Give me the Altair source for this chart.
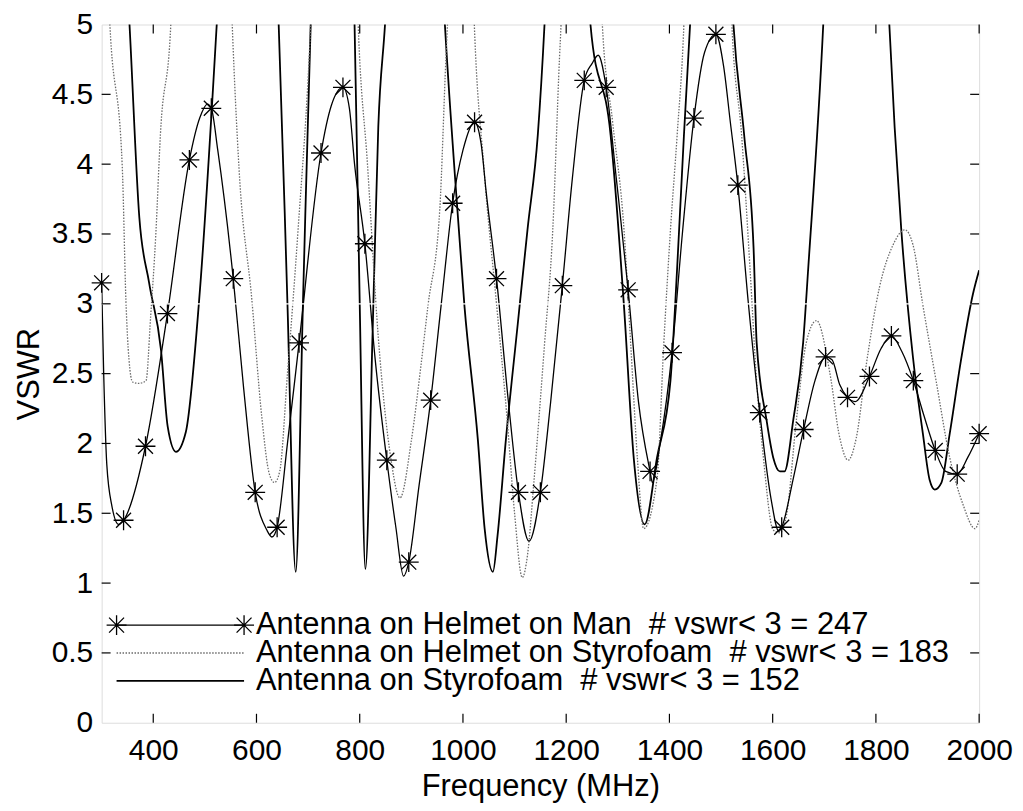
import altair as alt
import pandas as pd

# ---------------- data ----------------
# Antenna on Styrofoam (solid line); values above 5 leave the top of the plot
styro_freq = [300, 330, 354, 373, 392, 415, 428, 444, 463, 489, 523, 545,
              620, 643, 660, 676, 690, 705, 725, 770, 790, 800, 811, 825,
              836, 849, 870, 945, 965, 984, 1003, 1029, 1042, 1058, 1067,
              1083, 1106, 1125, 1145, 1158, 1175, 1230, 1247, 1286, 1312,
              1331, 1352, 1376, 1402, 1415, 1428, 1440, 1460, 1505, 1524,
              1545, 1563, 1569, 1588, 1601, 1614, 1623, 1640, 1659, 1669,
              1698, 1715, 1810, 1826, 1849, 1872, 1891, 1904, 1914, 1927,
              1943, 1965, 1988, 2000]
styro_vswr = [7.0, 6.5, 5.0, 3.62, 3.15, 2.67, 2.12, 1.94, 2.08, 3.03, 5.0, 6.5,
              6.5, 5.0, 3.0, 1.08, 3.0, 5.0, 6.5, 6.5, 5.0, 3.0, 1.1, 2.8,
              4.27, 5.0, 6.5, 6.5, 5.0, 3.94, 2.98, 2.02, 1.39, 1.08, 1.34,
              2.02, 2.85, 3.53, 4.21, 5.0, 6.5, 6.5, 5.0, 4.21, 2.98,
              1.89, 1.42, 1.9, 2.45, 3.26, 4.2, 5.0, 6.5, 6.5, 5.0,
              4.2, 3.4, 2.72, 2.17, 1.9, 1.8, 1.8, 2.17, 2.72, 3.26,
              5.0, 6.5, 6.5, 5.0, 3.54, 2.61, 2.07, 1.74, 1.67, 1.72,
              2.07, 2.6, 3.07, 3.24]

# Antenna on Helmet on Styrofoam (dotted line)
hstyro_freq = [300, 316, 340, 347, 353, 360, 372, 386, 395, 405, 414, 434, 445,
               540, 553, 566, 591, 610, 625, 635, 645, 660, 680, 705, 720,
               785, 797, 815, 836, 860, 878, 900, 919, 932, 955, 967, 970, 985,
               1010, 1022, 1040, 1065, 1085, 1100, 1115, 1125, 1138, 1158,
               1174, 1187, 1190, 1200, 1255, 1270, 1290, 1312, 1325, 1338,
               1350, 1376, 1389, 1402, 1415, 1428, 1440, 1510, 1521, 1540,
               1556, 1569, 1582, 1601, 1614, 1627, 1646, 1665, 1685, 1711,
               1730, 1746, 1762, 1782, 1807, 1833, 1856, 1872, 1891, 1917,
               1943, 1969, 1992, 2000]
hstyro_vswr = [6.5, 5.0, 3.98, 3.03, 2.6, 2.44, 2.43, 2.45, 2.91, 3.5, 4.22, 5.0, 6.5,
               6.5, 5.0, 3.98, 3.03, 2.2, 1.78, 1.72, 1.8, 2.5, 3.5, 5.0, 6.5,
               6.5, 5.0, 4.0, 2.76, 1.9, 1.61, 2.02, 2.57, 2.98, 3.67, 4.76, 5.0, 6.5,
               6.5, 5.0, 4.0, 3.0, 2.2, 1.5, 1.04, 1.2, 1.75, 2.71,
               3.53, 4.76, 5.0, 6.5, 6.5, 5.0, 4.3, 3.53, 2.71, 1.89,
               1.39, 1.75, 2.71, 3.53, 4.21, 5.0, 6.5, 6.5, 5.0, 4.2,
               3.26, 2.44, 1.9, 1.38, 1.36, 1.49, 2.17, 2.72, 2.88, 2.5,
               2.04, 1.88, 2.04, 2.58, 3.12, 3.42, 3.53, 3.42, 2.99, 2.44,
               1.9, 1.56, 1.39, 1.45]

# Antenna on Helmet on Man (solid line with * markers)
man_marker_freq = [300, 342.5, 385, 427.5, 470, 512.5, 555, 597.5, 640, 682.5,
                   725, 767.5, 810, 852.5, 895, 937.5, 980, 1022.5, 1065, 1107.5,
                   1150, 1192.5, 1235, 1277.5, 1320, 1362.5, 1405, 1447.5, 1490,
                   1532.5, 1575, 1617.5, 1660, 1702.5, 1745, 1787.5, 1830, 1872.5,
                   1915, 1957.5, 2000]
man_marker_vswr = [3.15, 1.45, 1.98, 2.93, 4.03, 4.4, 3.18, 1.65, 1.4, 2.72,
                   4.08, 4.55, 3.43, 1.88, 1.15, 2.31, 3.72, 4.3, 3.18, 1.65,
                   1.65, 3.13, 4.6, 4.55, 3.1, 1.8, 2.65, 4.33, 4.93,
                   3.85, 2.22, 1.4, 2.1, 2.62, 2.33, 2.48, 2.77, 2.45,
                   1.95, 1.78, 2.07]
man_extra_freq = [304, 310, 320, 333, 490, 505, 525, 575, 620, 630, 660, 745, 780,
                  790, 830, 870, 885, 915, 958, 1000, 1035, 1045, 1088, 1128,
                  1170, 1212, 1250, 1262, 1297, 1340, 1367, 1382, 1425, 1468,
                  1505, 1518, 1553, 1597, 1612, 1640, 1682, 1715, 1730, 1760,
                  1810, 1850, 1893, 1935, 1978]
man_extra_vswr = [2.5, 1.85, 1.55, 1.42, 4.33, 4.43, 4.1, 2.4, 1.38, 1.33, 2.0, 4.42, 4.4,
                  4.0, 2.6, 1.4, 1.05, 1.7, 3.0, 4.1, 4.15, 3.8, 2.3, 1.3,
                  2.3, 3.9, 4.72, 4.78, 3.9, 2.3, 1.72, 2.0, 3.5, 4.8,
                  4.7, 4.3, 3.0, 1.6, 1.37, 1.75, 2.45, 2.6, 2.42, 2.3,
                  2.68, 2.66, 2.2, 1.8, 1.9]

x_ticks = [400, 600, 800, 1000, 1200, 1400, 1600, 1800, 2000]
y_ticks = [0, 0.5, 1, 1.5, 2, 2.5, 3, 3.5, 4, 4.5, 5]
scan_gap_level = [3]

legend_labels = [
    "Antenna on Helmet on Man\u00a0 # vswr< 3 = 247",
    "Antenna on Helmet on Styrofoam\u00a0 # vswr< 3 = 183",
    "Antenna on Styrofoam\u00a0 # vswr< 3 = 152",
]

# ---------------- tables ----------------
styro_df = pd.DataFrame({"f": styro_freq, "v": styro_vswr})
hstyro_df = pd.DataFrame({"f": hstyro_freq, "v": hstyro_vswr})
man_line = sorted(zip(man_marker_freq + man_extra_freq, man_marker_vswr + man_extra_vswr))
man_df = pd.DataFrame(man_line, columns=["f", "v"])
man_mk_df = pd.DataFrame({"f": man_marker_freq, "v": man_marker_vswr})
xt_df = pd.DataFrame({"f": x_ticks})
yt_df = pd.DataFrame({"v": y_ticks[1:-1]})
gap_df = pd.DataFrame({"v": scan_gap_level})

# ---------------- styling ----------------
W, H = 881, 701
FONT = "Liberation Sans"
STAR = "M-1,0L1,0M0,-1L0,1M-0.75,-0.75L0.75,0.75M-0.75,0.75L0.75,-0.75"

xs = alt.Scale(domain=[300, 2000], nice=False, zero=False)
ys = alt.Scale(domain=[0, 5], nice=False, zero=False)
x_axis = alt.Axis(values=x_ticks, format="d", grid=False, ticks=False, tickSize=0,
                  domain=False, labelPadding=13, labelFontSize=30, titleFontSize=31,
                  labelFlush=False, labelOverlap=False,
                  titleFontWeight="normal", titleX=W / 2, titleY=64,
                  titleBaseline="middle", titleAlign="center")
y_axis = alt.Axis(values=y_ticks, format="~g", grid=False, ticks=False, tickSize=0,
                  domain=False, labelPadding=9, labelFontSize=30, titleFontSize=31,
                  labelFlush=False, labelOverlap=False,
                  titleFontWeight="normal", titleX=-72, titleY=H / 2,
                  titleBaseline="middle", titleAlign="center", titleAngle=270)


def X(field="f"):
    return alt.X(f"{field}:Q", scale=xs, axis=x_axis, title="Frequency (MHz)")


def Y(field="v"):
    return alt.Y(f"{field}:Q", scale=ys, axis=y_axis, title="VSWR")


styro = alt.Chart(styro_df).mark_line(clip=True, color="black", strokeWidth=1.8,
                                      interpolate="monotone").encode(
    x=X(), y=Y(), order="f:Q")
hstyro = alt.Chart(hstyro_df).mark_line(clip=True, color="#6a6a6a", strokeWidth=1.3,
                                        strokeDash=[1.5, 1.5], interpolate="monotone").encode(
    x=X(), y=Y(), order="f:Q")
man = alt.Chart(man_df).mark_line(clip=True, color="black", strokeWidth=1.3,
                                  interpolate="monotone").encode(
    x=X(), y=Y(), order="f:Q")
man_mk = alt.Chart(man_mk_df).mark_point(shape=STAR, size=400, filled=False, color="black",
                                         strokeWidth=1.3, opacity=1).encode(x=X(), y=Y())
gap = alt.Chart(gap_df).mark_rule(color="white", strokeWidth=1.3).encode(y=Y())

TL = 9
bt = alt.Chart(xt_df).mark_rule(color="black", strokeWidth=1.2).encode(
    x=X(), y=alt.value(H), y2=alt.value(H - TL))
tt = alt.Chart(xt_df).mark_rule(color="black", strokeWidth=1.2).encode(
    x=X(), y=alt.value(0), y2=alt.value(TL))
lt = alt.Chart(yt_df).mark_rule(color="black", strokeWidth=1.2).encode(
    y=Y(), x=alt.value(0), x2=alt.value(TL))
rt = alt.Chart(yt_df).mark_rule(color="black", strokeWidth=1.2).encode(
    y=Y(), x=alt.value(W), x2=alt.value(W - TL))

# legend drawn inside the plot, lower left
one = pd.DataFrame({"k": [0]})
rows = [603, 631, 659]
LX0, LX1, TX = 15, 143, 155
leg = []
leg.append(alt.Chart(one).mark_rule(color="black", strokeWidth=1.3).encode(
    x=alt.value(LX0), x2=alt.value(LX1), y=alt.value(rows[0])))
for px in (LX0, LX1):
    leg.append(alt.Chart(one).mark_point(shape=STAR, size=400, filled=False, color="black",
                                         strokeWidth=1.3, opacity=1).encode(
        x=alt.value(px), y=alt.value(rows[0])))
leg.append(alt.Chart(one).mark_rule(color="#6a6a6a", strokeWidth=1.3, strokeDash=[1.5, 1.5]).encode(
    x=alt.value(LX0), x2=alt.value(LX1), y=alt.value(rows[1])))
leg.append(alt.Chart(one).mark_rule(color="black", strokeWidth=1.8).encode(
    x=alt.value(LX0), x2=alt.value(LX1), y=alt.value(rows[2])))
for i, lab in enumerate(legend_labels):
    leg.append(alt.Chart(one).mark_text(align="left", baseline="middle", font=FONT,
                                        fontSize=31, color="black").encode(
        x=alt.value(TX), y=alt.value(rows[i]), text=alt.value(lab)))

chart = alt.layer(styro, hstyro, man, man_mk, gap, bt, tt, lt, rt, *leg).properties(
    width=W, height=H,
    autosize=alt.AutoSizeParams(type="none"),
    padding={"left": 94, "top": 15, "right": 36, "bottom": 79},
).configure_view(stroke="black", strokeWidth=1.6).configure_axis(
    labelFont=FONT, titleFont=FONT, labelColor="black", titleColor="black",
    titleFontWeight="normal",
).configure(background="white")

chart.save("out.html", embed_options={"renderer": "svg", "actions": False})
